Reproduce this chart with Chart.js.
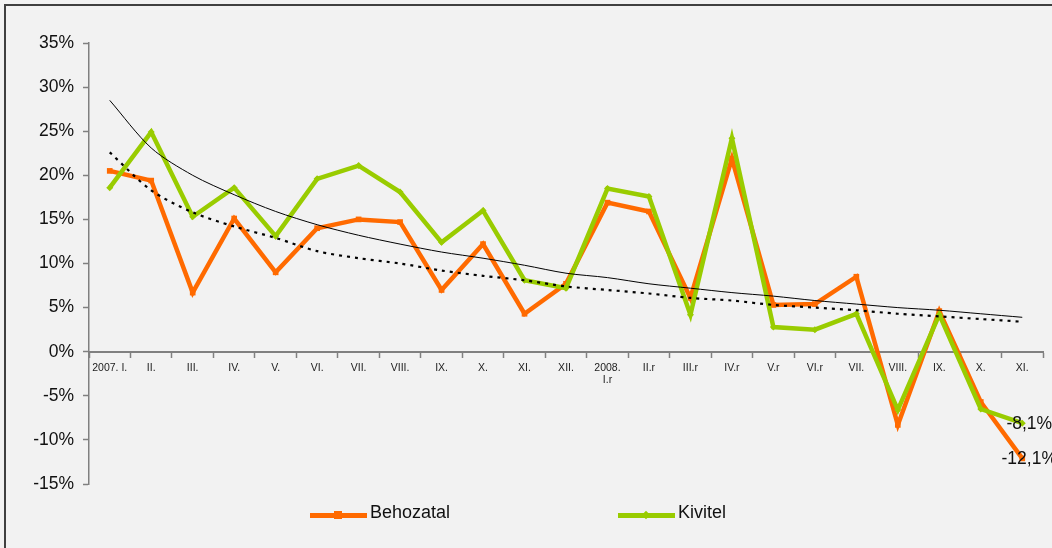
<!DOCTYPE html>
<html>
<head>
<meta charset="utf-8">
<script src="https://cdn.jsdelivr.net/npm/chart.js@4.4.0/dist/chart.umd.min.js"></script>
<style>
  html, body { margin: 0; padding: 0; background: #f2f2f2; overflow: hidden; }
  #wrap { position: relative; width: 1052px; height: 548px; }
  #frame { position: absolute; left: 4px; top: 4px; width: 1100px; height: 600px;
           border-top: 2px solid #404040; border-left: 2px solid #404040; }
  canvas { position: absolute; left: 0; top: 0; }
  .legend { position: absolute; top: 502px; font: 18px "Liberation Sans", Arial, sans-serif; color: #111; }
  .legend .item { position: absolute; white-space: nowrap; }
  .legend .line { position: absolute; top: 11px; width: 57px; height: 5px; }
  .legend .mark { position: absolute; }
  .legend .txt { position: absolute; left: 60px; top: 0; }
</style>
</head>
<body>
<div id="wrap">
  <div id="frame"></div>
  <canvas id="chart" width="1052" height="548"></canvas>
  <div class="legend">
    <div class="item" style="left:310px;">
      <div class="line" style="background:#ff6a00;"></div>
      <div class="mark" style="left:24px; top:9px; width:8px; height:8px; background:#ff6a00;"></div>
      <div class="txt">Behozatal</div>
    </div>
    <div class="item" style="left:618px;">
      <div class="line" style="background:#99cc00;"></div>
      <div class="mark" style="left:25px; top:10px; width:6px; height:6px; background:#99cc00; transform:rotate(45deg);"></div>
      <div class="txt">Kivitel</div>
    </div>
  </div>
</div>
<script>
// havi adatok, %
const honapok = ['2007. I.', 'II.', 'III.', 'IV.', 'V.', 'VI.', 'VII.', 'VIII.', 'IX.', 'X.', 'XI.', 'XII.',
  ['2008.', 'I.r'], 'II.r', 'III.r', 'IV.r', 'V.r', 'VI.r', 'VII.', 'VIII.', 'IX.', 'X.', 'XI.'];

const behozatal = [20.5, 19.4, 6.7, 15.1, 9.0, 14.0, 15.0, 14.7, 7.0, 12.2, 4.3, 7.7,
  16.9, 15.9, 6.1, 21.9, 5.3, 5.4, 8.5, -8.3, 4.6, -5.7, -12.1];

const kivitel = [18.6, 24.9, 15.3, 18.6, 13.1, 19.6, 21.1, 18.1, 12.4, 16.0, 8.1, 7.2,
  18.5, 17.6, 4.2, 24.2, 2.8, 2.5, 4.3, -6.6, 4.2, -6.5, -8.1];

// trendvonalak (leolvasva)
const trendKivitel = [28.5, 23.1, 20.0, 17.8, 15.9, 14.4, 13.2, 12.2, 11.3, 10.6, 9.8, 8.9,
  8.4, 7.7, 7.2, 6.7, 6.3, 5.8, 5.4, 5.0, 4.7, 4.3, 3.9];

const trendBehozatal = [22.6, 18.3, 15.8, 14.2, 12.9, 11.4, 10.6, 10.0, 9.2, 8.6, 8.1, 7.4,
  7.0, 6.6, 6.1, 5.8, 5.3, 5.0, 4.7, 4.3, 4.0, 3.7, 3.4];

const yTicks = [35, 30, 25, 20, 15, 10, 5, 0, -5, -10, -15];

const FONT = '"Liberation Sans", Arial, sans-serif';

// utolsó értékek felirata
const endLabels = {
  id: 'endLabels',
  afterDatasetsDraw(chart) {
    const ctx = chart.ctx;
    ctx.save();
    ctx.font = '17.5px ' + FONT;
    ctx.fillStyle = '#111';
    ctx.textAlign = 'center';
    ctx.textBaseline = 'middle';
    [2, 3].forEach(di => {
      const meta = chart.getDatasetMeta(di);
      const pt = meta.data[meta.data.length - 1];
      const v = chart.data.datasets[di].data[meta.data.length - 1];
      ctx.fillText(v.toFixed(1).replace('.', ',') + '%', pt.x + 7, pt.y + 1);
    });
    ctx.restore();
  }
};

new Chart(document.getElementById('chart'), {
  type: 'line',
  data: {
    labels: honapok,
    datasets: [
      { label: 'trend1', data: trendKivitel, borderColor: '#000', borderWidth: 1, pointRadius: 0, tension: 0.3, fill: false },
      { label: 'trend2', data: trendBehozatal, borderColor: '#000', borderWidth: 2.2, borderDash: [3, 5], pointRadius: 0, tension: 0.3, fill: false },
      { label: 'Kivitel', data: kivitel, borderColor: '#99cc00', backgroundColor: '#99cc00', borderWidth: 4.5,
        pointStyle: 'rectRot', pointRadius: 3.5, pointBorderWidth: 0, tension: 0, fill: false },
      { label: 'Behozatal', data: behozatal, borderColor: '#ff6a00', backgroundColor: '#ff6a00', borderWidth: 4.5,
        pointStyle: 'rect', pointRadius: 4, pointBorderWidth: 0, tension: 0, fill: false },
    ]
  },
  options: {
    responsive: false,
    animation: false,
    layout: { padding: { top: 43, right: 9, bottom: 64, left: 0 } },
    plugins: { legend: { display: false }, tooltip: { enabled: false } },
    scales: {
      x: {
        position: { y: 0 },
        offset: true,
        grid: { display: true, drawOnChartArea: false, offset: true, tickLength: 5, tickColor: '#808080', tickWidth: 1.5 },
        border: { display: true, color: '#808080', width: 2 },
        ticks: { color: '#222', font: { family: FONT, size: 10.5 }, maxRotation: 0, autoSkip: false, padding: 5 }
      },
      y: {
        min: -15, max: 35,
        afterFit(scale) { scale.width = 89; },
        afterBuildTicks(scale) { scale.ticks = yTicks.map(v => ({ value: v })); },
        grid: { display: true, drawOnChartArea: false, tickLength: 6, tickColor: '#808080', tickWidth: 1.5 },
        border: { display: true, color: '#808080', width: 1.5 },
        ticks: { color: '#111', font: { family: FONT, size: 17.5 }, padding: 9, callback: v => v + '%' }
      }
    }
  },
  plugins: [endLabels]
});
</script>
</body>
</html>
